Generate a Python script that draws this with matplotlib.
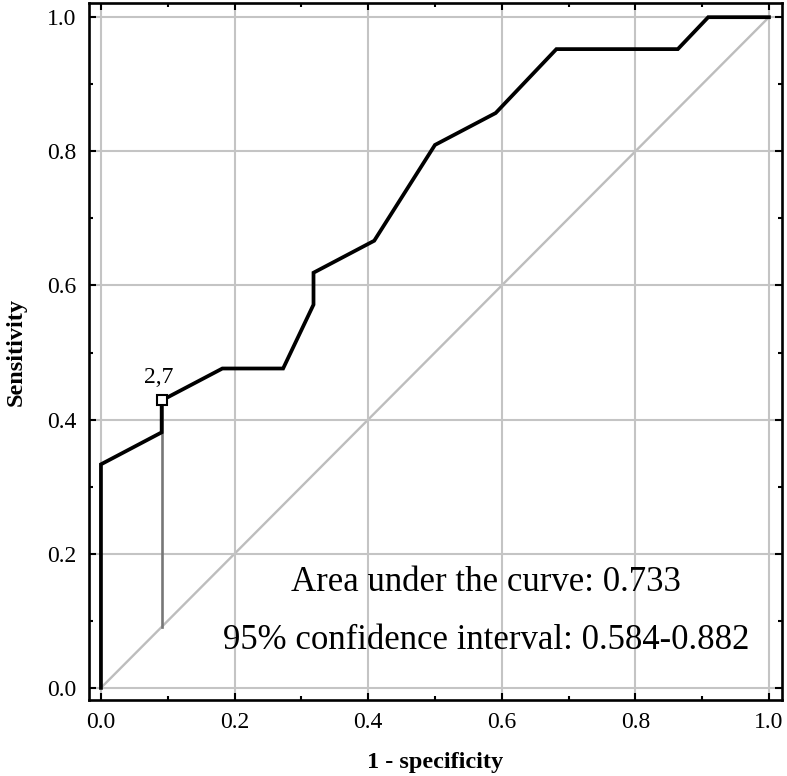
import numpy as np
import matplotlib
matplotlib.use("Agg")
import matplotlib.pyplot as plt
from matplotlib.ticker import MultipleLocator, FormatStrFormatter

# ROC curve points (1 - specificity, sensitivity)
fpr = [0.0, 0.0, 0.0909, 0.0909, 0.1818, 0.2727, 0.3182, 0.3182, 0.4091,
       0.5, 0.5909, 0.6818, 0.8636, 0.9091, 1.0]
tpr = [0.0, 0.3333, 0.3810, 0.4286, 0.4762, 0.4762, 0.5714, 0.6190, 0.6667,
       0.8095, 0.8571, 0.9524, 0.9524, 1.0, 1.0]

# chosen cut-off
cut_x = 0.0909
cut_y = 0.4286
cut_label = "2,7"

auc_text = "Area under the curve: 0.733"
ci_text = "95% confidence interval: 0.584-0.882"

plt.rcParams['font.family'] = ['Liberation Serif', 'DejaVu Serif']

fig = plt.figure(figsize=(7.87, 7.76), dpi=100)
ax = fig.add_axes([0.113, 0.098, 0.8806, 0.898])

ax.grid(True, which='major', color='#c4c4c4', linewidth=1.5, zorder=0)
ax.plot([0, 1], [0, 1], color='#bdbdbd', linewidth=1.7, zorder=1)
ax.plot([cut_x, cut_x], [cut_x, cut_y], color='#777777', linewidth=1.9, zorder=2)
ax.plot(fpr, tpr, color='black', linewidth=2.7, solid_joinstyle='miter', zorder=3)
ax.plot([cut_x], [cut_y], marker='s', markersize=7.5, markerfacecolor='white',
        markeredgecolor='black', markeredgewidth=1.5, zorder=4)
ax.text(cut_x - 0.004, cut_y + 0.018, cut_label, fontsize=17, ha='center', va='bottom')

ax.text(0.576, 0.157, auc_text, fontsize=25, ha='center', va='center')
ax.text(0.576, 0.071, ci_text, fontsize=25, ha='center', va='center')

ax.set_xlim(-0.018, 1.0195)
ax.set_ylim(-0.018, 1.021)
ax.xaxis.set_major_locator(MultipleLocator(0.2))
ax.yaxis.set_major_locator(MultipleLocator(0.2))
ax.xaxis.set_minor_locator(MultipleLocator(0.1))
ax.yaxis.set_minor_locator(MultipleLocator(0.1))
ax.xaxis.set_major_formatter(FormatStrFormatter('%.1f'))
ax.yaxis.set_major_formatter(FormatStrFormatter('%.1f'))
ax.tick_params(which='both', direction='in', top=True, right=True, width=1.5)
ax.tick_params(which='major', length=5, labelsize=17, pad=9)
ax.tick_params(which='minor', length=3)

for s in ax.spines.values():
    s.set_linewidth(1.9)

ax.set_xlabel("1 - specificity", fontsize=17.5, fontweight='bold', labelpad=13)
ax.set_ylabel("Sensitivity", fontsize=17.5, fontweight='bold', labelpad=15)

fig.savefig("out.png", dpi=100)
